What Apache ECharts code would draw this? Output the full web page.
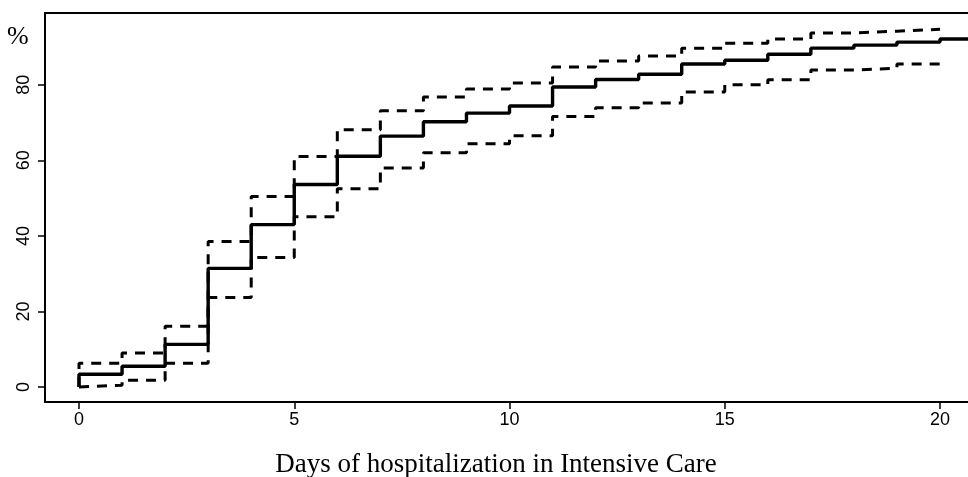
<!DOCTYPE html>
<html>
<head>
<meta charset="utf-8">
<script src="https://cdn.jsdelivr.net/npm/echarts@6/dist/echarts.min.js"></script>
<style>html,body{margin:0;padding:0;background:#fff;}#c{width:968px;height:477px;}</style>
</head>
<body>
<div id="c"></div>
<script>
// Days (step starts) and cumulative percentage values held from each day to the next
var days = [0,1,2,3,4,5,6,7,8,9,10,11,12,13,14,15,16,17,18,19,20];
var estimate = [3.4,5.5,11.3,31.4,43.0,53.6,61.1,66.4,70.2,72.5,74.4,79.4,81.4,82.8,85.5,86.5,88.1,89.7,90.5,91.3,92.1];
var upper = [6.3,9.0,16.1,38.5,50.4,61.0,68.1,73.1,76.8,78.9,80.5,84.7,86.3,87.6,89.7,91.0,92.1,93.7,94.2,94.7];
var lower = [0.5,1.8,6.3,23.7,34.3,45.1,52.5,58.0,62.0,64.4,66.5,71.6,73.9,75.2,78.1,80.0,81.3,83.9,84.4,85.5];
var xTicks = [0,5,10,15,20];
var yTicks = [0,20,40,60,80];
var xTitle = 'Days of hospitalization in Intensive Care';
var yTitle = '%';
var lastDay = 21;

function steps(vals, extendTo) {
  var pts = [[days[0], 0]];
  for (var i = 0; i < vals.length; i++) pts.push([days[i], vals[i]]);
  var endX = extendTo != null ? extendTo : days[vals.length - 1] + 1;
  pts.push([endX, vals[vals.length - 1]]);
  return pts;
}

var chart = echarts.init(document.getElementById('c'), null, {renderer: 'canvas'});
var lblFont = '"Liberation Sans",Arial,sans-serif';
chart.setOption({
  animation: false,
  backgroundColor: '#fff',
  grid: {left: 45, right: 0, top: 13, bottom: 75, show: false, containLabel: false},
  xAxis: [{
    type: 'value', min: -0.79, max: 20.65,
    axisLine: {show: true, onZero: false, lineStyle: {color: '#000', width: 2}},
    axisTick: {show: true, length: 7, lineStyle: {color: '#000', width: 1.5}, customValues: xTicks},
    axisLabel: {color: '#000', fontSize: 18, fontFamily: lblFont, margin: 9, customValues: xTicks, showMinLabel: true, showMaxLabel: true},
    splitLine: {show: false}
  }, {
    type: 'value', position: 'top', min: -0.79, max: 20.65,
    axisLine: {show: true, onZero: false, lineStyle: {color: '#000', width: 2}},
    axisTick: {show: false}, axisLabel: {show: false}, splitLine: {show: false}
  }],
  yAxis: {
    type: 'value', min: -3.96, max: 99,
    axisLine: {show: true, onZero: false, lineStyle: {color: '#000', width: 2}},
    axisTick: {show: true, length: 7, lineStyle: {color: '#000', width: 1.5}, customValues: yTicks},
    axisLabel: {color: '#000', fontSize: 18, fontFamily: lblFont, margin: 12, rotate: 90, customValues: yTicks},
    splitLine: {show: false}
  },
  graphic: [
    {type: 'text', left: 7, top: 24, style: {text: yTitle, font: '26px "Liberation Serif","Times New Roman",serif', fill: '#000'}},
    {type: 'text', x: 496, y: 465, style: {text: xTitle, font: '27px "Liberation Serif","Times New Roman",serif', fill: '#000', align: 'center', verticalAlign: 'middle'}}
  ],
  series: [
    {type: 'line', step: 'end', symbol: 'none', data: steps(estimate, lastDay), lineStyle: {color: '#000', width: 3.4}, z: 3},
    {type: 'line', step: 'end', symbol: 'none', data: steps(upper, days[upper.length]), lineStyle: {color: '#000', width: 3, type: [10, 8]}, z: 2},
    {type: 'line', step: 'end', symbol: 'none', data: steps(lower, days[lower.length]), lineStyle: {color: '#000', width: 3, type: [10, 8]}, z: 2}
  ]
});
</script>
</body>
</html>
